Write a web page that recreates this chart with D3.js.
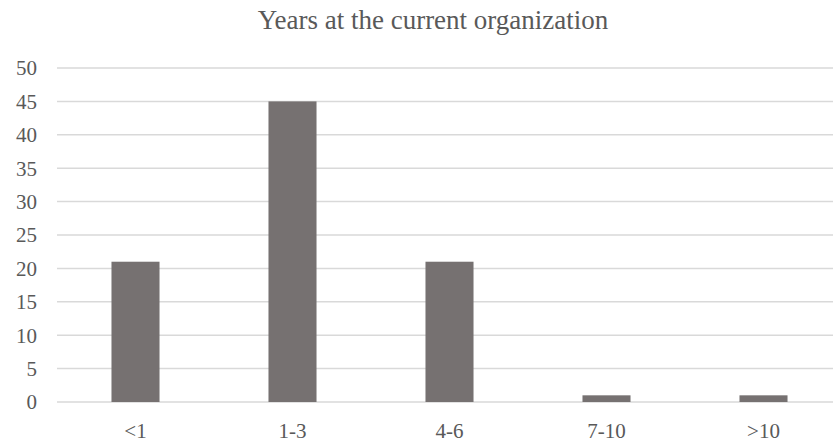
<!DOCTYPE html>
<html>
<head>
<meta charset="utf-8">
<script src="https://cdn.jsdelivr.net/npm/d3@7"></script>
<style>
  html, body { margin: 0; padding: 0; background: #fff; overflow: hidden; }
  text { font-family: "Liberation Serif", "Times New Roman", serif; fill: #595959; }
</style>
</head>
<body>
<div id="chart"></div>
<script>
var categories = ['<1', '1-3', '4-6', '7-10', '>10']
var counts = [21, 45, 21, 1, 1]
var yTicks = [0, 5, 10, 15, 20, 25, 30, 35, 40, 45, 50]

var width = 833
var height = 444
var plot = { left: 57, right: 842, top: 68, bottom: 402 }

var svg = d3.select('#chart')
  .append('svg')
  .attr('width', width)
  .attr('height', height)

var x = d3.scaleBand()
  .domain(categories)
  .range([plot.left, plot.right])
  .paddingInner(0.694)
  .paddingOuter(0.347)

var y = d3.scaleLinear()
  .domain([0, 50])
  .range([plot.bottom, plot.top])

// gridlines
svg.append('g')
  .selectAll('line')
  .data(yTicks)
  .enter().append('line')
  .attr('x1', plot.left)
  .attr('x2', plot.right)
  .attr('y1', function (d) { return y(d) })
  .attr('y2', function (d) { return y(d) })
  .attr('stroke', '#d9d9d9')
  .attr('stroke-width', 1.5)

// y tick labels
svg.append('g')
  .selectAll('text')
  .data(yTicks)
  .enter().append('text')
  .attr('x', 37)
  .attr('y', function (d) { return y(d) })
  .attr('dy', '0.35em')
  .attr('text-anchor', 'end')
  .style('font-size', '21px')
  .text(function (d) { return d })

// bars
svg.append('g')
  .selectAll('rect')
  .data(counts)
  .enter().append('rect')
  .attr('x', function (d, i) { return x(categories[i]) })
  .attr('y', function (d) { return y(d) })
  .attr('width', x.bandwidth())
  .attr('height', function (d) { return y(0) - y(d) })
  .attr('fill', '#767171')

// x labels
svg.append('g')
  .selectAll('text')
  .data(categories)
  .enter().append('text')
  .attr('x', function (d) { return x(d) + x.bandwidth() / 2 })
  .attr('y', 438)
  .attr('text-anchor', 'middle')
  .style('font-size', '21px')
  .text(function (d) { return d })

svg.append('text')
  .attr('x', 433)
  .attr('y', 29)
  .attr('text-anchor', 'middle')
  .style('font-size', '27px')
  .text('Years at the current organization')
</script>
</body>
</html>
